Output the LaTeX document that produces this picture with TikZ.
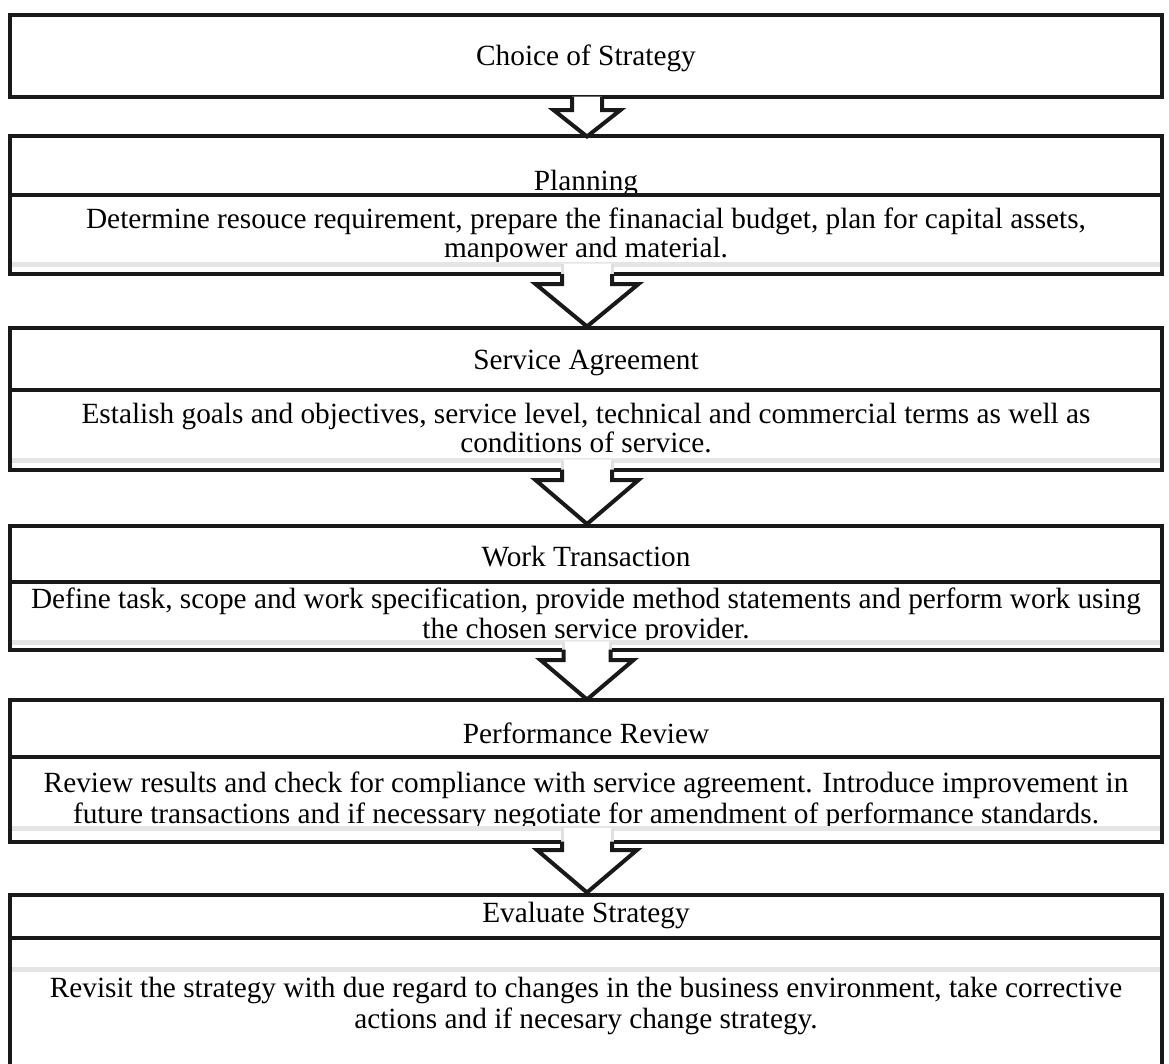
\documentclass[tikz,border=0pt]{standalone}
\usepackage{fontspec}
\setmainfont{Liberation Serif}
\usetikzlibrary{calc}

% Hollow block arrow pointing down from one box to the next.
% #1 source box, #2 target box, #3 shaft half-width, #4 head half-width,
% #5 how far the shaft reaches up into the source box, #6 shoulder depth
% below the source bottom, #7 tip offset below the target top
\newcommand{\flowarrow}[7]{%
  \coordinate (tl) at ($(#1.south)+(1-#3,-#5)$);
  \coordinate (tr) at ($(#1.south)+(1+#3,-#5)$);
  \coordinate (bl) at ($(#1.south)+(1-#3,-2)$);
  \coordinate (br) at ($(#1.south)+(1+#3,-2)$);
  \coordinate (sl) at ($(#1.south)+(1-#3,#6)$);
  \coordinate (sr) at ($(#1.south)+(1+#3,#6)$);
  \coordinate (hl) at ($(#1.south)+(1-#4,#6)$);
  \coordinate (hr) at ($(#1.south)+(1+#4,#6)$);
  \coordinate (tip) at ($(#2.north)+(1,#7)$);
  \fill[white] (tl) -- (sl) -- (hl) -- (tip) -- (hr) -- (sr) -- (tr) -- cycle;
  \draw[shaftrule] (tl) -- (bl) (tr) -- (br);
  \draw[blockarrow] (bl) -- (sl) -- (hl) -- (tip) -- (hr) -- (sr) -- (br);
}

\begin{document}
\begin{tikzpicture}[x=1pt,y=-1pt,
  frame/.style={draw=black!90,line width=4pt,rectangle,inner sep=0pt,
                minimum width=1152pt},
  rule/.style={draw=black!10,line width=5pt},
  shaftrule/.style={draw=black!12,line width=3pt},
  blockarrow/.style={draw=black!90,line width=4pt,line join=miter},
  txt/.style={anchor=base,inner sep=0pt,font=\fontsize{29.3}{30}\selectfont}]
\useasboundingbox[fill=white] (0,0) rectangle (1169,1063);
\clip (0,0) rectangle (1169,1063);

% texts
\node[txt] (t1) at (586,65) {Choice of Strategy};
\node[txt] (t2) at (586,190) {Planning};
\node[txt] (d2a) at (586,228) {Determine resouce requirement, prepare the finanacial budget, plan for capital assets,};
\node[txt] (d2b) at (586,257) {manpower and material.};
\node[txt] (t3) at (586,369) {Service Agreement};
\node[txt] (d3a) at (586,423) {Estalish goals and objectives, service level, technical and commercial terms as well as};
\node[txt] (d3b) at (586,452) {conditions of service.};
\node[txt] (t4) at (586,566) {Work Transaction};
\node[txt] (d4a) at (586,608) {Define task, scope and work specification, provide method statements and perform work using};
\node[txt] (d4b) at (586,638) {the chosen service provider.};
\node[txt] (t5) at (586,743) {Performance Review};
\node[txt] (d5a) at (586,792) {Review results and check for compliance with service agreement. Introduce improvement in};
\node[txt] (d5b) at (586,823) {future transactions and if necessary negotiate for amendment of performance standards.};
\node[txt] (t6) at (586,922) {Evaluate Strategy};
\node[txt] (d6a) at (586,997) {Revisit the strategy with due regard to changes in the business environment, take corrective};
\node[txt] (d6b) at (586,1028) {actions and if necesary change strategy.};

% boxes: a header part and a body part for each step
\node[frame,minimum height=81.5pt] (b1) at (586,55.75) {};
\node[frame,minimum height=59.5pt] (h2) at (586,165.25) {};
\node[frame,minimum height=79pt]   (b2) at (586,234.5) {};
\node[frame,minimum height=62pt]   (h3) at (586,359) {};
\node[frame,minimum height=79.5pt] (b3) at (586,429.75) {};
\node[frame,minimum height=55.5pt] (h4) at (586,553.75) {};
\node[frame,minimum height=68pt]   (b4) at (586,615.5) {};
\node[frame,minimum height=57pt]   (h5) at (586,728.5) {};
\node[frame,minimum height=84.5pt] (b5) at (586,799.25) {};
\node[frame,minimum height=43pt]   (h6) at (586,916) {};
\node[frame,minimum height=152.5pt] (b6) at (586,1013.75) {};

% light rules inside the body parts
\draw[rule] (12,264) -- (1160,264);
\draw[rule] (12,460) -- (1160,460);
\draw[rule] (12,642) -- (1160,642);
\draw[rule] (12,828.5) -- (1160,828.5);
\draw[rule] (12,969.5) -- (1160,969.5);

% arrows between the steps
\flowarrow{b1}{h2}{15}{33.5}{2}{11.5}{3}
\flowarrow{b2}{h3}{25}{51.5}{12.5}{8}{0.5}
\flowarrow{b3}{h4}{25}{51.5}{12}{8.5}{0}
\flowarrow{b4}{h5}{23.5}{46.5}{10}{8.5}{1.5}
\flowarrow{b5}{h6}{25}{50}{15.5}{6.5}{0}
\end{tikzpicture}
\end{document}
